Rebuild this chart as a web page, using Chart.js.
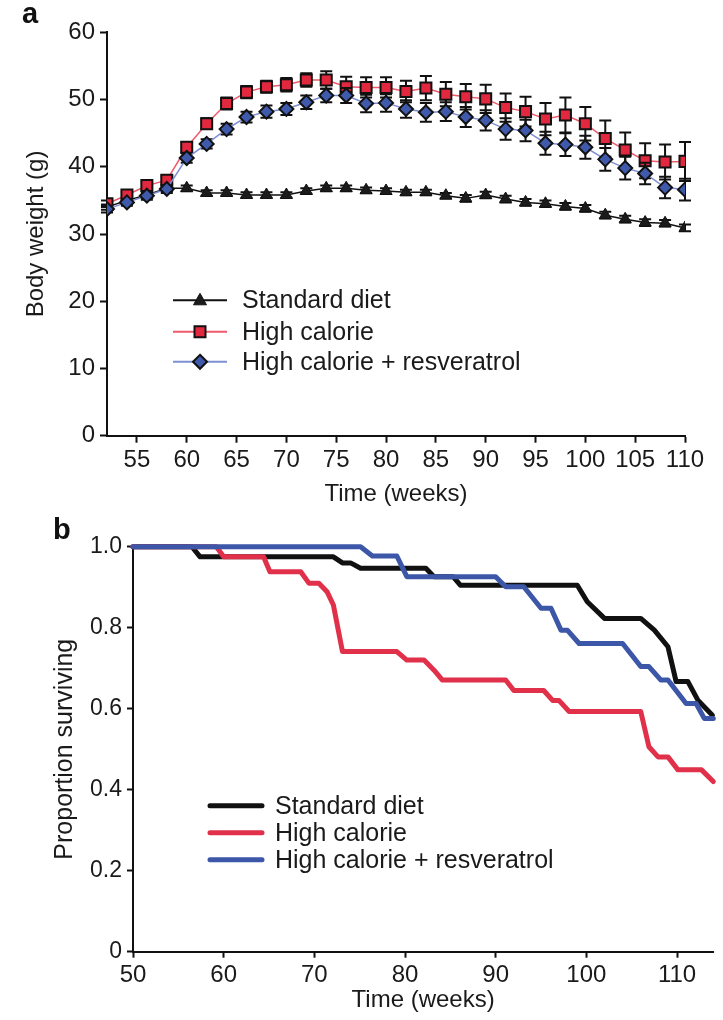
<!DOCTYPE html>
<html>
<head>
<meta charset="utf-8">
<script src="https://cdn.jsdelivr.net/npm/chart.js@4.4.0/dist/chart.umd.min.js"></script>
<style>
  body { margin: 0; background: #fff; }
  #wrap { position: relative; width: 723px; height: 1020px; background: #fff; }
  .box { position: absolute; left: 0; width: 723px; }
  .panel { position: absolute; font: bold 29px "Liberation Sans", Arial, sans-serif; line-height: 29px; color: #111; }
</style>
</head>
<body>
<div id="wrap">
  <div class="box" style="top:0;height:515px"><canvas id="chartA" width="723" height="515"></canvas></div>
  <div class="box" style="top:515px;height:505px"><canvas id="chartB" width="723" height="505"></canvas></div>
  <div class="panel" style="left:22px;top:-1px">a</div>
  <div class="panel" style="left:53px;top:515px">b</div>
</div>
<script>
"use strict";

// ---- panel a : body weight ----
const weeksA = [52, 54, 56, 58, 60, 62, 64, 66, 68, 70, 72, 74, 76, 78, 80,
  82, 84, 86, 88, 90, 92, 94, 96, 98, 100, 102, 104, 106, 108, 110];
const standardWeight = [34.0, 35.0, 35.8, 36.8, 36.8, 36.1, 36.1, 35.8, 35.8, 35.8, 36.4, 36.8, 36.8, 36.5, 36.4,
  36.2, 36.2, 35.7, 35.3, 35.8, 35.2, 34.7, 34.5, 34.1, 33.8, 32.8, 32.2, 31.7, 31.6, 30.9];
const highCalWeight = [34.5, 35.8, 37.2, 38.0, 42.9, 46.4, 49.4, 51.1, 51.9, 52.2, 52.9, 52.9, 51.9, 51.8, 51.8,
  51.2, 51.7, 50.8, 50.4, 50.1, 48.8, 48.2, 47.1, 47.7, 46.4, 44.2, 42.5, 40.9, 40.7, 40.8];
const resvWeight = [33.7, 34.7, 35.7, 36.7, 41.3, 43.4, 45.6, 47.4, 48.2, 48.6, 49.6, 50.6, 50.6, 49.4, 49.5,
  48.6, 48.1, 48.2, 47.4, 46.9, 45.6, 45.4, 43.5, 43.3, 42.9, 41.1, 39.8, 39.0, 36.9, 36.6];
// error bar half widths (g)
const standardErr = [0.4, 0.4, 0.4, 0.4, 0.4, 0.4, 0.4, 0.4, 0.4, 0.4, 0.4, 0.4, 0.4, 0.4, 0.4,
  0.4, 0.4, 0.4, 0.5, 0.5, 0.5, 0.5, 0.5, 0.5, 0.5, 0.5, 0.5, 0.5, 0.5, 0.5];
const highCalErr = [0.5, 0.5, 0.6, 0.6, 0.8, 0.8, 0.9, 0.9, 0.9, 1.0, 1.0, 1.3, 1.5, 1.5, 1.5,
  1.6, 1.8, 1.8, 1.9, 2.1, 2.1, 2.2, 2.4, 2.6, 2.5, 2.7, 2.6, 2.6, 2.6, 2.9];
const resvErr = [0.5, 0.5, 0.6, 0.6, 0.7, 0.7, 0.8, 0.8, 0.9, 0.9, 1.0, 1.0, 1.1, 1.3, 1.3,
  1.3, 1.4, 1.4, 1.5, 1.5, 1.6, 1.6, 1.7, 1.7, 1.7, 1.7, 1.7, 1.6, 1.6, 1.6];
const weekTicksA = [55, 60, 65, 70, 75, 80, 85, 90, 95, 100, 105, 110];
const weightTicks = [0, 10, 20, 30, 40, 50, 60];

// ---- panel b : survival ----
const stdSurvWeeks = [50, 56.5, 57.4, 72.1, 73.1, 74.0, 75.1, 82.3, 83.2, 85.3, 86.1, 99.0, 100.1, 102.0,
  106.0, 107.5, 109.0, 109.9, 111.2, 112.3, 113.9];
const stdSurv = [1.0, 1.0, 0.975, 0.975, 0.96, 0.96, 0.947, 0.947, 0.926, 0.926, 0.905, 0.905, 0.864, 0.823,
  0.823, 0.794, 0.753, 0.667, 0.667, 0.621, 0.584];
const highCalSurvWeeks = [50, 59.2, 60.0, 64.4, 65.1, 68.5, 69.4, 70.5, 71.4, 72.1, 73.1, 79.1, 80.2, 82.1,
  83.2, 84.1, 91.1, 92.0, 95.3, 96.3, 97.0, 98.1, 106.0, 106.9, 107.9, 109.0, 110.1, 112.7, 114.0];
const highCalSurv = [1.0, 1.0, 0.975, 0.975, 0.938, 0.938, 0.91, 0.91, 0.889, 0.856, 0.741, 0.741, 0.72, 0.72,
  0.695, 0.671, 0.671, 0.645, 0.645, 0.62, 0.62, 0.593, 0.593, 0.506, 0.481, 0.481, 0.449, 0.449, 0.42];
const resvSurvWeeks = [50, 75.1, 76.4, 79.1, 80.2, 90.0, 91.1, 93.1, 95.0, 96.1, 97.2, 97.9, 99.2, 104.0,
  106.0, 106.9, 108.2, 109.0, 111.0, 112.1, 113.0, 114.0];
const resvSurv = [1.0, 1.0, 0.977, 0.977, 0.926, 0.926, 0.901, 0.901, 0.848, 0.848, 0.794, 0.794, 0.761, 0.761,
  0.704, 0.704, 0.671, 0.671, 0.613, 0.613, 0.576, 0.576];
const weekTicksB = [50, 60, 70, 80, 90, 100, 110];
const survTicks = [0, 0.2, 0.4, 0.6, 0.8, 1.0];

const seriesNames = ["Standard diet", "High calorie", "High calorie + resveratrol"];

Chart.defaults.font.family = '"Liberation Sans", Arial, sans-serif';
Chart.defaults.font.size = 24;
Chart.defaults.color = "#1a1a1a";

function toPoints(xs, ys) {
  return xs.map((x, i) => ({ x: x, y: ys[i] }));
}

function setTicks(list) {
  return scale => { scale.ticks = list.map(v => ({ value: v })); };
}

function drawMarker(ctx, kind, x, y, fill) {
  ctx.save();
  ctx.fillStyle = fill;
  ctx.strokeStyle = "#111";
  ctx.lineWidth = 2;
  ctx.beginPath();
  if (kind === "triangle") {
    ctx.moveTo(x, y - 7);
    ctx.lineTo(x + 6.5, y + 4.5);
    ctx.lineTo(x - 6.5, y + 4.5);
  } else if (kind === "rect") {
    ctx.rect(x - 5.5, y - 5.5, 11, 11);
  } else {
    ctx.moveTo(x, y - 7);
    ctx.lineTo(x + 7, y);
    ctx.lineTo(x, y + 7);
    ctx.lineTo(x - 7, y);
  }
  ctx.closePath();
  ctx.fill();
  ctx.lineWidth = kind === "triangle" ? 1 : 2;
  ctx.stroke();
  ctx.restore();
}

// black error bars, drawn just under each dataset's markers
const errorBars = {
  id: "errorBars",
  beforeDatasetDraw(chart, args) {
    const ds = chart.data.datasets[args.index];
    if (!ds.errors) return;
    const ctx = chart.ctx;
    const yScale = chart.scales.y;
    ctx.save();
    ctx.strokeStyle = "#111";
    ctx.lineWidth = 2;
    args.meta.data.forEach((pt, i) => {
      const v = ds.data[i].y;
      const top = yScale.getPixelForValue(v + ds.errors[i]);
      const bot = yScale.getPixelForValue(v - ds.errors[i]);
      ctx.beginPath();
      ctx.moveTo(pt.x, top);
      ctx.lineTo(pt.x, bot);
      ctx.moveTo(pt.x - 6, top);
      ctx.lineTo(pt.x + 6, top);
      ctx.moveTo(pt.x - 6, bot);
      ctx.lineTo(pt.x + 6, bot);
      ctx.stroke();
    });
    ctx.restore();
  }
};

const legendA = {
  id: "legendA",
  afterDraw(chart) {
    const ctx = chart.ctx;
    const area = chart.chartArea;
    const kinds = ["triangle", "rect", "diamond"];
    const lineCols = ["#111", "#ef5a6c", "#7d8fd2"];
    const fills = ["#1b1b1b", "#e2283f", "#3f59ab"];
    const rowY = [268, 299.5, 329.5];
    ctx.save();
    ctx.font = '25px "Liberation Sans", Arial, sans-serif';
    ctx.fillStyle = "#1a1a1a";
    ctx.textBaseline = "middle";
    seriesNames.forEach((name, i) => {
      const y = area.top + rowY[i];
      ctx.strokeStyle = lineCols[i];
      ctx.lineWidth = 2;
      ctx.beginPath();
      ctx.moveTo(area.left + 66, y);
      ctx.lineTo(area.left + 120, y);
      ctx.stroke();
      drawMarker(ctx, kinds[i], area.left + 93, y, fills[i]);
      ctx.fillText(name, area.left + 135, y + 1);
    });
    ctx.restore();
  }
};

const legendB = {
  id: "legendB",
  afterDraw(chart) {
    const ctx = chart.ctx;
    const area = chart.chartArea;
    const cols = ["#111", "#e0304a", "#3c57a8"];
    const rowY = [259, 286, 313];
    ctx.save();
    ctx.font = '25px "Liberation Sans", Arial, sans-serif';
    ctx.fillStyle = "#1a1a1a";
    ctx.textBaseline = "middle";
    seriesNames.forEach((name, i) => {
      const y = area.top + rowY[i];
      ctx.strokeStyle = cols[i];
      ctx.lineWidth = 5;
      ctx.lineCap = "round";
      ctx.beginPath();
      ctx.moveTo(area.left + 77, y);
      ctx.lineTo(area.left + 129, y);
      ctx.stroke();
      ctx.fillText(name, area.left + 142, y + 1);
    });
    ctx.restore();
  }
};

const axisStyle = {
  grid: { drawOnChartArea: false, drawTicks: true, tickLength: 7, tickWidth: 2, tickColor: "#111" },
  border: { display: true, color: "#111", width: 2 }
};

new Chart(document.getElementById("chartA"), {
  type: "line",
  data: {
    datasets: [
      {
        label: seriesNames[0],
        data: toPoints(weeksA, standardWeight),
        errors: standardErr,
        borderColor: "#111",
        borderWidth: 1.5,
        pointStyle: "triangle",
        pointRadius: 7,
        pointBackgroundColor: "#1b1b1b",
        pointBorderColor: "#111",
        pointBorderWidth: 1,
        order: 2
      },
      {
        label: seriesNames[1],
        data: toPoints(weeksA, highCalWeight),
        errors: highCalErr,
        borderColor: "#ef5a6c",
        borderWidth: 1.5,
        pointStyle: "rect",
        pointRadius: 7.8,
        pointBackgroundColor: "#e2283f",
        pointBorderColor: "#111",
        pointBorderWidth: 2,
        order: 1
      },
      {
        label: seriesNames[2],
        data: toPoints(weeksA, resvWeight),
        errors: resvErr,
        borderColor: "#7d8fd2",
        borderWidth: 1.5,
        pointStyle: "rectRot",
        pointRadius: 7,
        pointBackgroundColor: "#3f59ab",
        pointBorderColor: "#111",
        pointBorderWidth: 2,
        order: 0
      }
    ]
  },
  options: {
    responsive: false,
    animation: false,
    devicePixelRatio: 1,
    layout: { padding: { left: 0, right: 38, top: 32.3, bottom: 0 } },
    plugins: { legend: { display: false }, tooltip: { enabled: false } },
    scales: {
      x: {
        type: "linear",
        min: 52,
        max: 110,
        afterBuildTicks: setTicks(weekTicksA),
        afterFit: s => { s.height = 79.3; },
        ticks: { padding: 3, maxRotation: 0, font: { size: 24 } },
        title: { display: true, text: "Time (weeks)", font: { size: 24 }, padding: { top: 0, bottom: 6 } },
        ...axisStyle
      },
      y: {
        min: 0,
        max: 60,
        afterBuildTicks: setTicks(weightTicks),
        afterFit: s => { s.width = 107; },
        ticks: { padding: 5, font: { size: 24 } },
        title: { display: true, text: "Body weight (g)", font: { size: 24 }, padding: { top: 22, bottom: 0 } },
        ...axisStyle
      }
    }
  },
  plugins: [errorBars, legendA]
});

new Chart(document.getElementById("chartB"), {
  type: "line",
  data: {
    datasets: [
      {
        label: seriesNames[0],
        data: toPoints(stdSurvWeeks, stdSurv),
        borderColor: "#111",
        order: 2
      },
      {
        label: seriesNames[1],
        data: toPoints(highCalSurvWeeks, highCalSurv),
        borderColor: "#e0304a",
        order: 1
      },
      {
        label: seriesNames[2],
        data: toPoints(resvSurvWeeks, resvSurv),
        borderColor: "#3c57a8",
        order: 0
      }
    ]
  },
  options: {
    responsive: false,
    animation: false,
    devicePixelRatio: 1,
    clip: false,
    elements: {
      line: { borderWidth: 5, tension: 0, borderJoinStyle: "round", borderCapStyle: "round" },
      point: { radius: 0 }
    },
    layout: { padding: { left: 0, right: 9.7, top: 31.7, bottom: 0 } },
    plugins: { legend: { display: false }, tooltip: { enabled: false } },
    scales: {
      x: {
        type: "linear",
        min: 50,
        max: 114,
        afterBuildTicks: setTicks(weekTicksB),
        afterFit: s => { s.height = 68.3; },
        ticks: { padding: 3, maxRotation: 0, font: { size: 24 } },
        title: { display: true, text: "Time (weeks)", font: { size: 24 }, padding: { top: 0, bottom: 5 } },
        ...axisStyle,
        grid: { ...axisStyle.grid, tickLength: 6 }
      },
      y: {
        min: 0,
        max: 1,
        afterBuildTicks: setTicks(survTicks),
        afterFit: s => { s.width = 133; },
        ticks: {
          padding: 5,
          font: { size: 23 },
          callback: v => (v === 0 ? "0" : v.toFixed(1))
        },
        title: { display: true, text: "Proportion surviving", font: { size: 25 }, padding: { top: 50, bottom: 0 } },
        ...axisStyle,
        grid: { ...axisStyle.grid, tickLength: 6 }
      }
    }
  },
  plugins: [legendB]
});
</script>
</body>
</html>
